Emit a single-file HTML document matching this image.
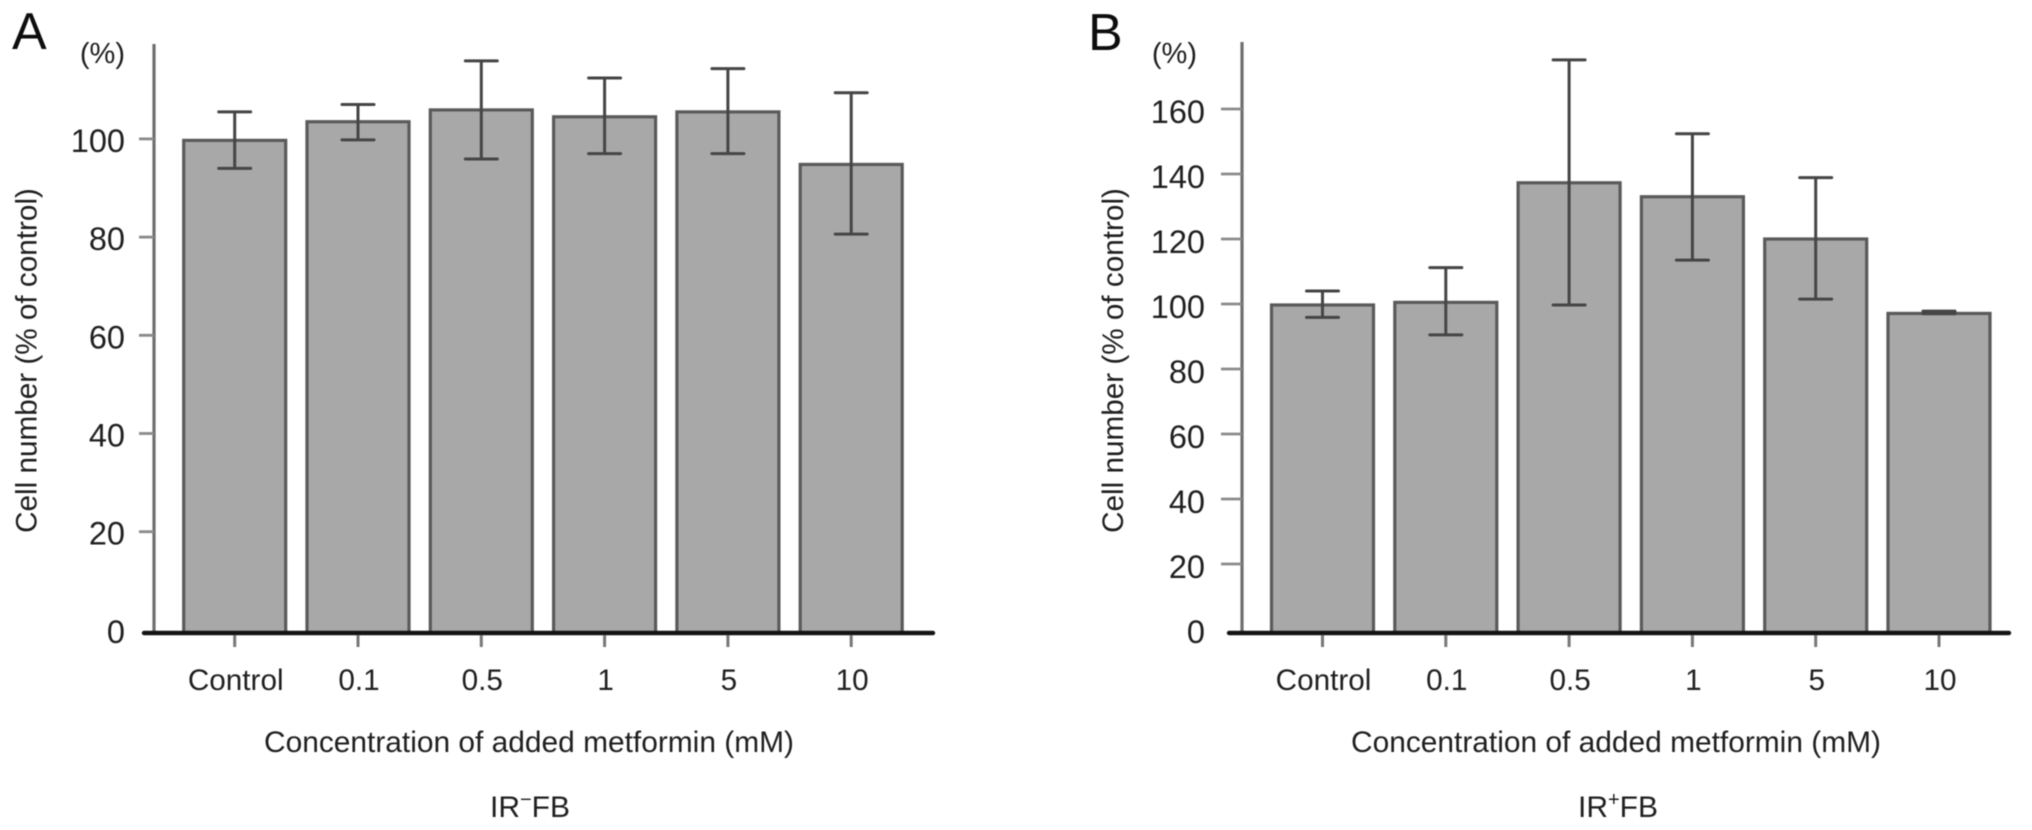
<!DOCTYPE html>
<html lang="en">
<head>
<meta charset="utf-8">
<title>Cell number vs metformin concentration</title>
<style>
  html, body { margin: 0; padding: 0; background: #fff; }
  svg { display: block; filter: blur(0.6px); }
  text { font-family: "Liberation Sans", sans-serif; fill: #1f1f1f; }
</style>
</head>
<body>
<svg id="figure" xmlns="http://www.w3.org/2000/svg" width="2032" height="830" viewBox="0 0 2032 830">
  <rect x="0" y="0" width="2032" height="830" fill="#ffffff"/>
  <g id="panel-a">
    <text x="12" y="49" font-size="52" style="fill:#0d0d0d">A</text>
    <text x="125" y="63" font-size="29" text-anchor="end">(%)</text>
    <text transform="translate(36.5,360.5) rotate(-90)" font-size="29.7" text-anchor="middle">Cell number (% of control)</text>
    <text x="529" y="752" font-size="29.9" text-anchor="middle">Concentration of added metformin (mM)</text>
    <text x="530" y="817" font-size="30" text-anchor="middle">IR<tspan dy="-11" font-size="20">−</tspan><tspan dy="11">FB</tspan></text>
  </g>
  <g id="panel-b">
    <text x="1088" y="50" font-size="52" style="fill:#0d0d0d">B</text>
    <text x="1197" y="63" font-size="29" text-anchor="end">(%)</text>
    <text transform="translate(1123,360.5) rotate(-90)" font-size="29.7" text-anchor="middle">Cell number (% of control)</text>
    <text x="1616" y="752" font-size="29.9" text-anchor="middle">Concentration of added metformin (mM)</text>
    <text x="1618" y="817" font-size="30" text-anchor="middle">IR<tspan dy="-11" font-size="20">+</tspan><tspan dy="11">FB</tspan></text>
  </g>
</svg>
<script>
const categories = ['Control', '0.1', '0.5', '1', '5', '10'];

const valuesA = [99.7, 103.5, 105.9, 104.5, 105.5, 94.8];
const upperA = [105.5, 107, 115.9, 112.4, 114.3, 109.4];
const lowerA = [94, 99.8, 95.9, 97, 97, 80.6];
const tickLabelsA = [0, 20, 40, 60, 80, 100];

const valuesB = [99.7, 100.5, 137.3, 133, 120, 97.1];
const upperB = [104, 111.2, 175.1, 152.4, 138.9, 97.8];
const lowerB = [95.9, 90.5, 99.7, 113.5, 101.5, 97];
const tickLabelsB = [0, 20, 40, 60, 80, 100, 120, 140, 160];

const SVG_NS = 'http://www.w3.org/2000/svg';

function make(parent, tag, props) {
  const el = document.createElementNS(SVG_NS, tag);
  for (const k in props) el.setAttribute(k, props[k]);
  parent.appendChild(el);
  return el;
}

function drawPanel(cfg) {
  const parent = document.getElementById(cfg.id);
  const xPos = i => cfg.x0 + cfg.step * i;
  const yPos = v => cfg.zeroY - cfg.unit * v;

  // bars
  cfg.values.forEach((v, i) => {
    const bar = make(parent, 'rect', {
      x: xPos(i) - 51, y: yPos(v), width: 102, height: 633 - yPos(v),
      fill: '#a8a8a8', stroke: '#5a5a5a', 'stroke-width': 3.2
    });
    
    
  });

  // y axis line
  const yAxis = make(parent, 'line', {
    x1: cfg.axisX, x2: cfg.axisX, y1: cfg.axisTop, y2: 633,
    stroke: '#6e6e6e', 'stroke-width': 3.2
  });
  
  

  // y ticks and labels
  cfg.ticks.forEach(t => {
    if (t !== 0) {
      const tick = make(parent, 'line', {
        x1: cfg.axisX - cfg.tickLen, x2: cfg.axisX, y1: yPos(t), y2: yPos(t),
        stroke: '#8a8a8a', 'stroke-width': 2.8
      });
      
      
    }
    const label = make(parent, 'text', {
      x: cfg.labelRight, y: yPos(t) + cfg.labelOffset, 'font-size': 32.5, 'text-anchor': 'end'
    });
    label.textContent = String(t);
    
    
  });

  // x baseline
  const xAxis = make(parent, 'line', {
    x1: cfg.baseLeft, x2: cfg.baseRight, y1: 633, y2: 633,
    stroke: '#141414', 'stroke-width': 4.4, 'stroke-linecap': 'round'
  });
  
  

  // x ticks, labels and error bars
  categories.forEach((c, i) => {
    const xt = make(parent, 'line', {
      x1: xPos(i), x2: xPos(i), y1: 635, y2: 647,
      stroke: '#777777', 'stroke-width': 3
    });
    
    

    const xl = make(parent, 'text', {
      x: xPos(i) + 1, y: 690, 'font-size': 29.7, 'text-anchor': 'middle'
    });
    xl.textContent = c;
    
    

    const stem = make(parent, 'line', {
      x1: xPos(i), x2: xPos(i), y1: yPos(cfg.upper[i]), y2: yPos(cfg.lower[i]),
      stroke: '#454545', 'stroke-width': 3
    });
    
    

    const capTop = make(parent, 'line', {
      x1: xPos(i) - 16, x2: xPos(i) + 16, y1: yPos(cfg.upper[i]), y2: yPos(cfg.upper[i]),
      stroke: '#454545', 'stroke-width': 3, 'stroke-linecap': 'round'
    });
    
    

    const capLow = make(parent, 'line', {
      x1: xPos(i) - 16, x2: xPos(i) + 16, y1: yPos(cfg.lower[i]), y2: yPos(cfg.lower[i]),
      stroke: '#454545', 'stroke-width': 3, 'stroke-linecap': 'round'
    });
    
    
  });
}

drawPanel({
  id: 'panel-a', prefix: 'a',
  values: valuesA, upper: upperA, lower: lowerA, ticks: tickLabelsA,
  x0: 234.7, step: 123.3, zeroY: 629.9, unit: 4.91,
  axisX: 154, axisTop: 44, tickLen: 15, labelRight: 125, labelOffset: 13,
  baseLeft: 144, baseRight: 933
});

drawPanel({
  id: 'panel-b', prefix: 'b',
  values: valuesB, upper: upperB, lower: lowerB, ticks: tickLabelsB,
  x0: 1322.5, step: 123.3, zeroY: 629, unit: 3.25,
  axisX: 1242, axisTop: 42, tickLen: 21, labelRight: 1205, labelOffset: 14,
  baseLeft: 1229, baseRight: 2009
});
</script>
</body>
</html>
